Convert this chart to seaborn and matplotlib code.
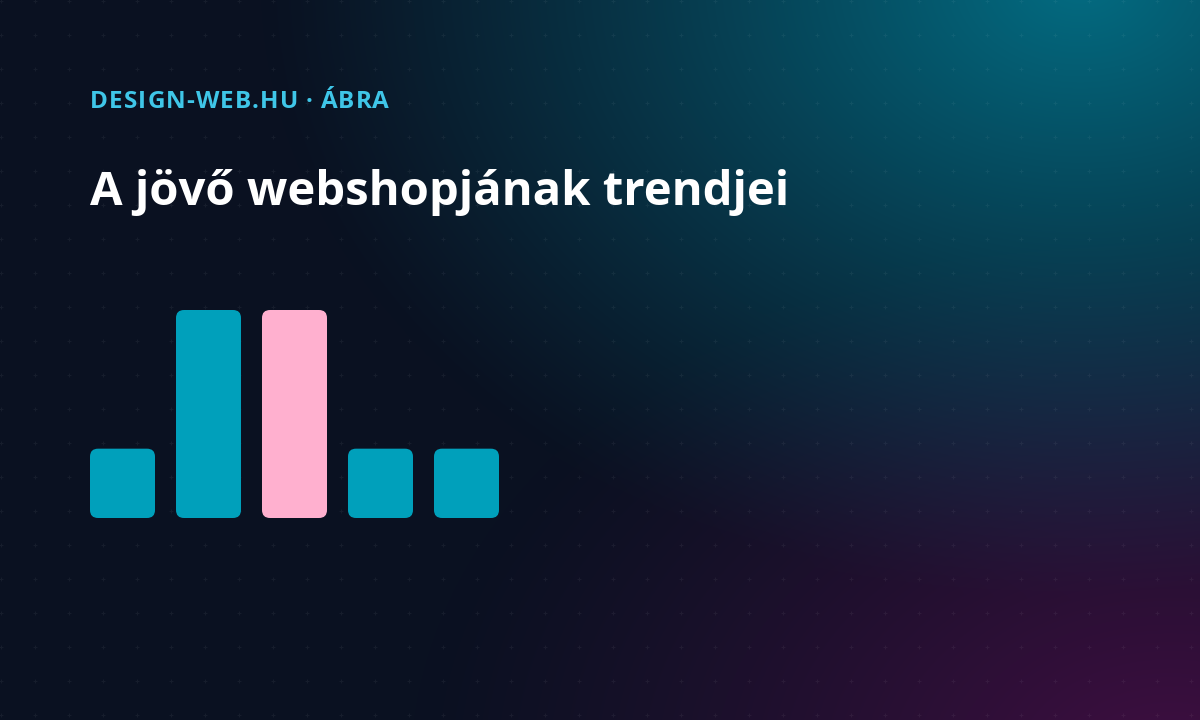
import numpy as np
import pandas as pd
import seaborn as sns
import matplotlib.pyplot as plt
from matplotlib.patches import FancyBboxPatch

# --- data ---
categories = ["1", "2", "3", "4", "5"]
values = [1, 3, 3, 1, 1]
bar_colors = ["#00a0bb", "#00a0bb", "#ffb0cf", "#00a0bb", "#00a0bb"]

kicker = "DESIGN-WEB.HU · ÁBRA"
title = "A jövő webshopjának trendjei"

sns.set_theme(style="dark")
plt.rcParams["font.family"] = ["Open Sans", "Noto Sans", "DejaVu Sans"]

W, H = 1200, 720
fig = plt.figure(figsize=(12, 7.2), dpi=100)

# --- background: dark base + teal glow top right + purple glow bottom right ---
yy, xx = np.mgrid[0:H, 0:W].astype(float)
base = np.array([10, 17, 33]) / 255
teal = np.array([3, 108, 130]) / 255
purple = np.array([64, 14, 66]) / 255

d1 = np.sqrt(((xx - 1080) / 820) ** 2 + ((yy + 20) / 620) ** 2)
a1 = np.clip(1 - d1, 0, 1) ** 1.15
d2 = np.sqrt(((xx - 1170) / 760) ** 2 + ((yy - 770) / 540) ** 2)
a2 = np.clip(1 - d2, 0, 1) ** 1.2

img = base[None, None, :] * np.ones((H, W, 1))
img = img + a1[..., None] * (teal - base)
img = img + a2[..., None] * (purple - base)
img = np.clip(img, 0, 1)

ax_bg = fig.add_axes([0, 0, 1, 1])
ax_bg.imshow(img, extent=(0, W, H, 0), aspect="auto", zorder=0)
ax_bg.set_xlim(0, W)
ax_bg.set_ylim(H, 0)
ax_bg.axis("off")

# faint cross grid
gx, gy = np.meshgrid(np.arange(1, W, 34), np.arange(1, H, 34))
ax_bg.scatter(gx.ravel(), gy.ravel(), marker="+", s=12, linewidths=0.7,
              color="white", alpha=0.05, zorder=1)

# kicker with letter spacing, drawn char by char
renderer = fig.canvas.get_renderer()
x0 = 90
for ch in kicker:
    t = ax_bg.text(x0, 108, ch, color="#3fc6e8", fontsize=17.5, fontweight="bold",
                   va="baseline", ha="left", zorder=3)
    bb = t.get_window_extent(renderer=renderer)
    adv = bb.width if ch != " " else 5.5
    x0 += adv + 1.1

ax_bg.text(90, 205, title, color="white", fontsize=34, fontweight="bold",
           va="baseline", ha="left", zorder=3)

# --- bars ---
ax = fig.add_axes([90 / W, (H - 518) / H, 409 / W, 208 / H])
df = pd.DataFrame({"cat": categories, "val": values})
sns.barplot(data=df, x="cat", y="val", hue="cat", palette=bar_colors,
            width=0.756, saturation=1, legend=False, ax=ax)
ax.set_xlim(-0.378, 4.378)
ax.set_ylim(0, 3)
ax.axis("off")
ax.patch.set_alpha(0)

xpp = 4.756 / 409
ypp = 3 / 208
radius = 8 * xpp
for p in list(ax.patches):
    x, y = p.get_x(), p.get_y()
    w, h = p.get_width(), p.get_height()
    fc = p.get_facecolor()
    p.remove()
    ax.add_patch(FancyBboxPatch((x, y), w, h,
                                boxstyle=f"round,pad=0,rounding_size={radius}",
                                mutation_aspect=ypp / xpp,
                                fc=fc, ec="none"))

fig.savefig("out.png", dpi=100)
